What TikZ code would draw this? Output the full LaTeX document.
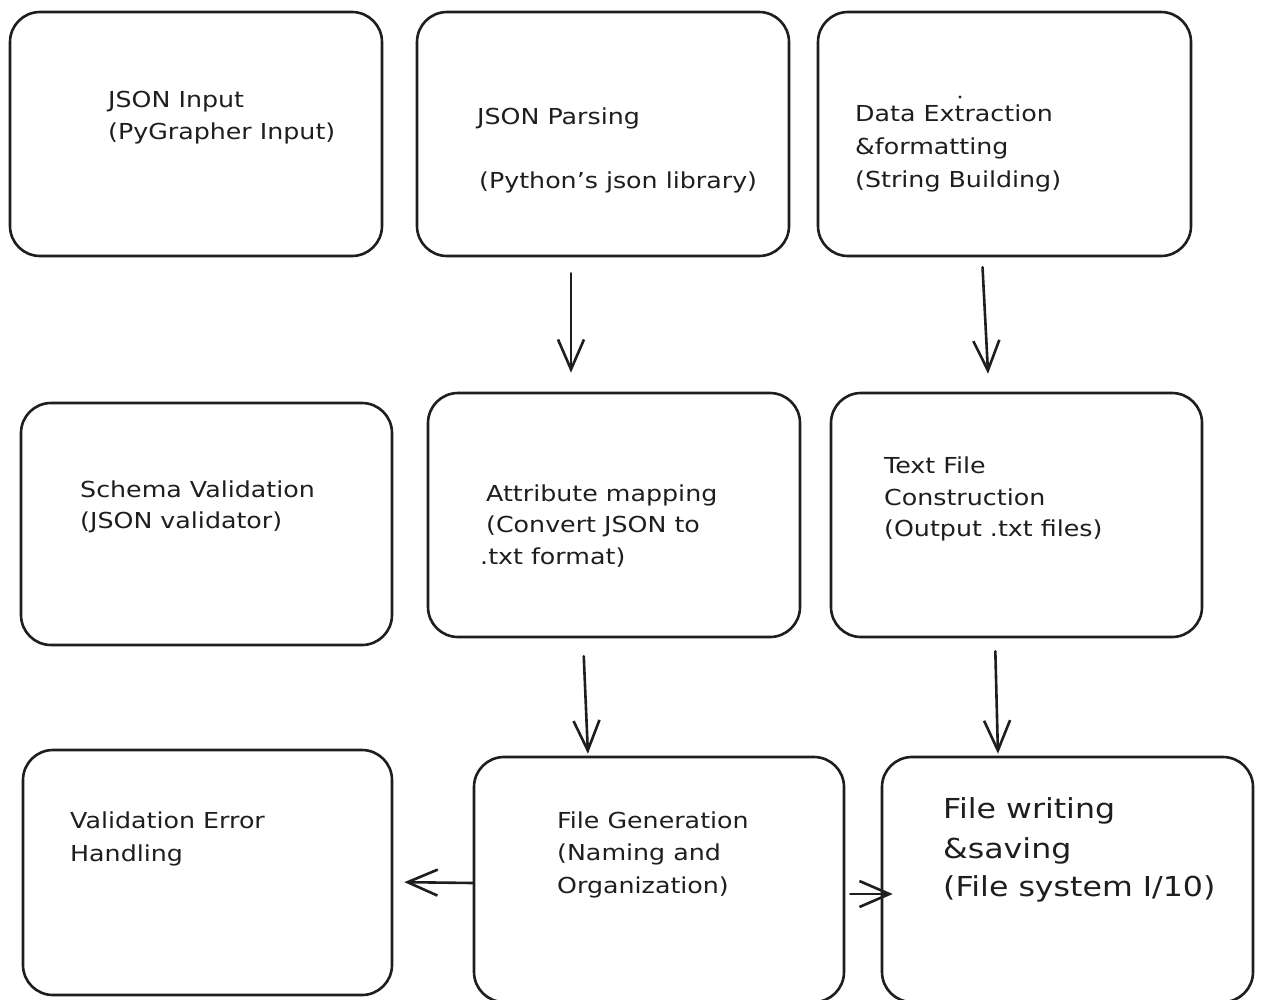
\documentclass[tikz,border=0pt]{standalone}
\usepackage{fontspec}
\setmainfont{DejaVu Sans}[FakeStretch=1.15]
\usetikzlibrary{arrows.meta}
\definecolor{ink}{HTML}{1E1E1E}
\begin{document}
\begin{tikzpicture}[x=1pt,y=-1pt,
  box/.style={draw=ink, line width=2.6pt, rounded corners=30pt, inner sep=0pt},
  arr/.style={draw=ink, line width=2.6pt, line cap=round, -{Straight Barb[length=30pt,width=26pt,line width=2.6pt]}},
  txt/.style={anchor=base west, inner sep=0pt, font=\fontsize{22}{26}\selectfont, text=ink},
  bigtxt/.style={txt, font=\fontsize{27.5}{32}\selectfont}]
\clip (0,0) rectangle (1263,999);
\fill[white] (0,0) rectangle (1263,999);
% boxes
\node[box, minimum width=372pt, minimum height=244pt] (b1) at (196,134) {};
\node[box, minimum width=372pt, minimum height=244pt] (b2) at (603,134) {};
\node[box, minimum width=373pt, minimum height=244pt] (b3) at (1004.5,134) {};
\node[box, minimum width=371pt, minimum height=242pt] (b4) at (206.5,524) {};
\node[box, minimum width=372pt, minimum height=244pt] (b5) at (614,515) {};
\node[box, minimum width=371pt, minimum height=244pt] (b6) at (1016.5,515) {};
\node[box, minimum width=369pt, minimum height=245pt] (b7) at (207.5,872.5) {};
\node[box, minimum width=370pt, minimum height=245pt] (b8) at (659,879.5) {};
\node[box, minimum width=371pt, minimum height=245pt] (b9) at (1067.5,879.5) {};
% texts
\node[txt] (t1a) at (108,107) {JSON Input};
\node[txt] (t1b) at (108,139) {(PyGrapher Input)};
\node[txt] (t2a) at (477,124) {JSON Parsing};
\node[txt] (t2b) at (479,188) {(Python's json library)};
\node[txt] (t3a) at (855,121) {Data Extraction};
\node[txt] (t3b) at (855,154) {\&formatting};
\node[txt] (t3c) at (855,187) {(String Building)};
\fill[ink] (960,97) circle (1.6pt);
\node[txt] (t4a) at (80,497) {Schema Validation};
\node[txt] (t4b) at (80,528) {(JSON validator)};
\node[txt] (t5a) at (486,501) {Attribute mapping};
\node[txt] (t5b) at (486,532) {(Convert JSON to};
\node[txt] (t5c) at (480,564) {.txt format)};
\node[txt] (t6a) at (884,473) {Text File};
\node[txt] (t6b) at (884,505) {Construction};
\node[txt] (t6c) at (884,536) {(Output .txt files)};
\node[txt] (t7a) at (70,828) {Validation Error};
\node[txt] (t7b) at (70,861) {Handling};
\node[txt] (t8a) at (557,828) {File Generation};
\node[txt] (t8b) at (557,860) {(Naming and};
\node[txt] (t8c) at (557,893) {Organization)};
\node[bigtxt] (t9a) at (943,818) {File writing};
\node[bigtxt] (t9b) at (943,858) {\&saving};
\node[bigtxt] (t9c) at (943,896) {(File system I/10)};
% connectors
\draw[arr, shorten <=16pt, shorten >=19pt] ([xshift=-32pt]b2.south) -- ([xshift=-43pt]b5.north);
\draw[arr, shorten <=10pt, shorten >=18pt] ([xshift=-22.5pt]b3.south) -- ([xshift=-27.5pt]b6.north);
\draw[arr, shorten <=18pt, shorten >=2pt] ([xshift=-31pt]b5.south) -- ([xshift=-71pt]b8.north);
\draw[arr, shorten <=13pt, shorten >=2pt] ([xshift=-21.5pt]b6.south) -- ([xshift=-69.5pt]b9.north);
\draw[arr, shorten >=11pt] ([yshift=-3.5pt]b8.west) -- ([yshift=-9.5pt]b7.east);
\draw[arr, shorten <=5pt, shorten >=-12pt] ([yshift=-14.5pt]b8.east) -- ([yshift=-14.5pt]b9.west);
\end{tikzpicture}
\end{document}
